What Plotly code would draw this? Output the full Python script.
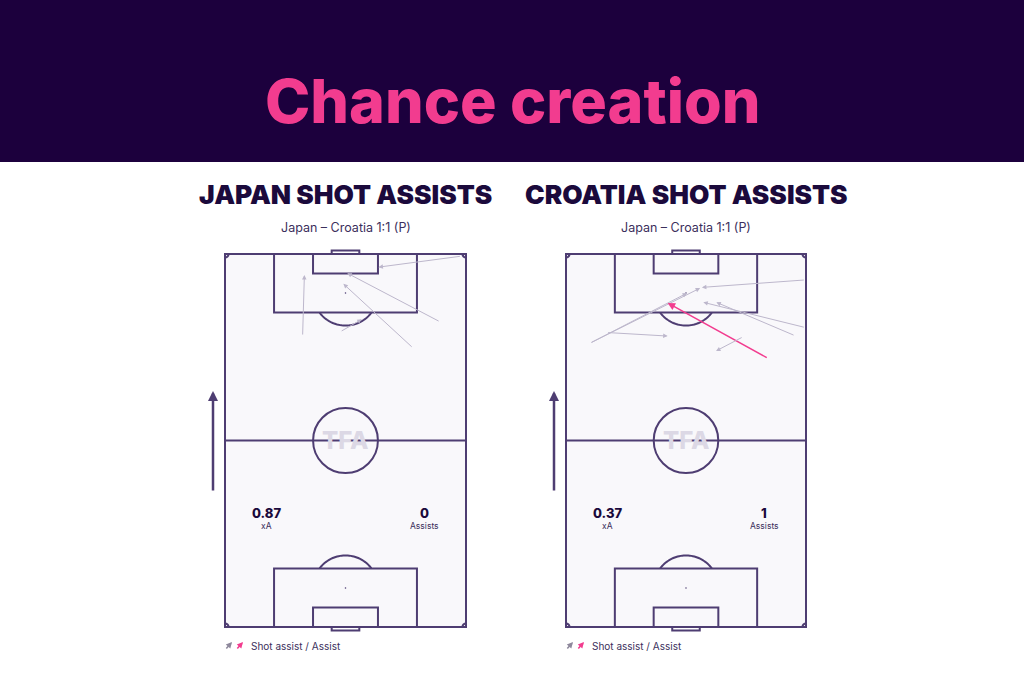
import numpy as np
import plotly.graph_objects as go

# ---------------- data ----------------
teams = ["JAPAN SHOT ASSISTS", "CROATIA SHOT ASSISTS"]
match_label = "Japan – Croatia 1:1 (P)"
xa_values = ["0.87", "0.37"]
assist_values = ["0", "1"]

japan_start_x = [21.9, 66.7, 60.7, 53.1, 32.5]
japan_start_y = [81.9, 104.4, 85.9, 78.5, 83.1]
japan_end_x = [22.4, 43.3, 34.5, 33.4, 38.6]
japan_end_y = [99.1, 101.3, 99.6, 96.6, 86.6]
japan_assist = [0, 0, 0, 0, 0]

croatia_start_x = [67.8, 6.8, 6.8, 57.3, 67.8, 64.9, 11.5, 50.2]
croatia_start_y = [97.7, 79.9, 79.9, 75.6, 84.3, 82.0, 82.9, 81.7]
croatia_end_x = [38.5, 34.3, 38.0, 28.8, 38.9, 42.6, 28.8, 42.5]
croatia_end_y = [95.6, 94.0, 95.4, 91.2, 91.4, 91.4, 81.9, 77.7]
croatia_assist = [0, 0, 0, 1, 0, 0, 0, 0]

# ---------------- style ----------------
W, H = 1024, 683
DARK = "#1b0a3c"
HEADER = "#1c003d"
PINK = "#f23c8f"
LINE = "#4e3d72"
PITCH_BG = "#f9f8fb"
SHOT = "#bdb7cc"
FONT = "Inter"

PL, PW = 68.0, 105.0
XR = [-2, 70]
YR = [-2, 107]


def px(x):
    return x / W


def py(y):
    return 1 - y / H


fig = go.Figure()

frames = [(225, 466, 254, 627), (566, 806, 254, 627)]

for i, (l, r, t, b) in enumerate(frames):
    sx = (r - l) / PL
    sy = (b - t) / PW
    x0 = l + XR[0] * sx
    x1 = r + (XR[1] - PL) * sx
    y_bot = b - YR[0] * sy
    y_top = t - (YR[1] - PW) * sy
    suffix = "" if i == 0 else str(i + 1)
    fig.update_layout(**{
        "xaxis" + suffix: dict(domain=[px(x0), px(x1)], range=XR, visible=False,
                               fixedrange=True, anchor="y" + suffix),
        "yaxis" + suffix: dict(domain=[py(y_bot), py(y_top)], range=YR, visible=False,
                               fixedrange=True, anchor="x" + suffix),
    })

shapes = []
annotations = []

shapes.append(dict(type="rect", xref="paper", yref="paper", x0=0, x1=1, y0=py(162), y1=1,
                   fillcolor=HEADER, line=dict(width=0), layer="below"))
annotations.append(dict(text="Chance creation", xref="paper", yref="paper", x=0.5, y=py(101),
                        showarrow=False, font=dict(family=FONT, size=61, color=PINK, weight=800),
                        xanchor="center", yanchor="middle"))


def arc_path(cx, cy, r, a0, a1, n=40):
    a = np.linspace(np.radians(a0), np.radians(a1), n)
    xs = cx + r * np.cos(a)
    ys = cy + r * np.sin(a)
    return "M " + " L ".join(f"{x:.3f},{y:.3f}" for x, y in zip(xs, ys))


def pitch(xr, yr):
    s = []
    ln = dict(color=LINE, width=2)
    s.append(dict(type="rect", xref=xr, yref=yr, x0=0, x1=PL, y0=0, y1=PW,
                  fillcolor=PITCH_BG, line=ln, layer="below"))
    s.append(dict(type="line", xref=xr, yref=yr, x0=0, x1=PL, y0=PW / 2, y1=PW / 2, line=ln, layer="below"))
    s.append(dict(type="circle", xref=xr, yref=yr, x0=PL / 2 - 9.15, x1=PL / 2 + 9.15,
                  y0=PW / 2 - 9.15, y1=PW / 2 + 9.15, line=ln, layer="below"))
    for top in (True, False):
        sign = -1 if top else 1
        base = PW if top else 0
        s.append(dict(type="rect", xref=xr, yref=yr, x0=PL / 2 - 20.16, x1=PL / 2 + 20.16,
                      y0=base, y1=base + sign * 16.5, line=ln, layer="below"))
        s.append(dict(type="rect", xref=xr, yref=yr, x0=PL / 2 - 9.16, x1=PL / 2 + 9.16,
                      y0=base, y1=base + sign * 5.5, line=ln, layer="below"))
        s.append(dict(type="rect", xref=xr, yref=yr, x0=PL / 2 - 3.9, x1=PL / 2 + 3.9,
                      y0=base, y1=base - sign * 1.0, line=ln, layer="below"))
        spy = base + sign * 11
        s.append(dict(type="circle", xref=xr, yref=yr, x0=PL / 2 - 0.22, x1=PL / 2 + 0.22,
                      y0=spy - 0.22, y1=spy + 0.22, fillcolor=LINE, line=dict(width=0), layer="below"))
        ang = np.degrees(np.arccos(5.5 / 9.15))
        if top:
            p = arc_path(PL / 2, spy, 9.15, 270 - ang, 270 + ang)
        else:
            p = arc_path(PL / 2, spy, 9.15, 90 - ang, 90 + ang)
        s.append(dict(type="path", xref=xr, yref=yr, path=p, line=ln, layer="below"))
    for (cx, cy, a0, a1) in [(0, 0, 0, 90), (PL, 0, 90, 180), (PL, PW, 180, 270), (0, PW, 270, 360)]:
        s.append(dict(type="path", xref=xr, yref=yr, path=arc_path(cx, cy, 1.0, a0, a1, 12),
                      line=ln, layer="below"))
    return s


series = [
    (japan_start_x, japan_start_y, japan_end_x, japan_end_y, japan_assist),
    (croatia_start_x, croatia_start_y, croatia_end_x, croatia_end_y, croatia_assist),
]

for i in range(2):
    xr = "x" if i == 0 else "x2"
    yr = "y" if i == 0 else "y2"
    shapes += pitch(xr, yr)
    l, r, t, b = frames[i]
    cx = (l + r) / 2
    annotations.append(dict(text=teams[i], xref="paper", yref="paper", x=px(cx), y=py(194),
                            showarrow=False, xanchor="center", yanchor="middle",
                            font=dict(family=FONT, size=26.3, color=DARK, weight=900)))
    annotations.append(dict(text=match_label, xref="paper", yref="paper", x=px(cx), y=py(227),
                            showarrow=False, xanchor="center", yanchor="middle",
                            font=dict(family=FONT, size=12.5, color="#3b2f5c")))
    annotations.append(dict(text="TFA", xref=xr, yref=yr, x=PL / 2, y=PW / 2, showarrow=False,
                            xanchor="center", yanchor="middle",
                            font=dict(family=FONT, size=24, color="#dcd8e5", weight=800)))
    annotations.append(dict(text=xa_values[i], xref=xr, yref=yr, x=11.8, y=32.1, showarrow=False,
                            xanchor="center", yanchor="middle",
                            font=dict(family=FONT, size=13, color=DARK, weight=800)))
    annotations.append(dict(text="xA", xref=xr, yref=yr, x=11.8, y=28.4, showarrow=False,
                            xanchor="center", yanchor="middle",
                            font=dict(family=FONT, size=8.5, color="#3b2f5c")))
    annotations.append(dict(text=assist_values[i], xref=xr, yref=yr, x=56.2, y=32.1, showarrow=False,
                            xanchor="center", yanchor="middle",
                            font=dict(family=FONT, size=13, color=DARK, weight=800)))
    annotations.append(dict(text="Assists", xref=xr, yref=yr, x=56.2, y=28.4, showarrow=False,
                            xanchor="center", yanchor="middle",
                            font=dict(family=FONT, size=8.5, color="#3b2f5c")))
    sx_, sy_, ex_, ey_, ast = series[i]
    for a in range(len(sx_)):
        col = PINK if ast[a] else SHOT
        annotations.append(dict(x=ex_[a], y=ey_[a], ax=sx_[a], ay=sy_[a], xref=xr, yref=yr,
                                axref=xr, ayref=yr, text="", showarrow=True, arrowhead=2,
                                arrowsize=1.0 if ast[a] else 0.9, arrowwidth=1.5 if ast[a] else 1,
                                arrowcolor=col, standoff=0, startstandoff=0))
    dx = l - 12
    annotations.append(dict(x=px(dx), y=py(391), xref="paper", yref="paper",
                            ax=0, ay=101, axref="pixel", ayref="pixel", text="",
                            showarrow=True, arrowhead=2, arrowsize=0.8, arrowwidth=2.5,
                            arrowcolor=LINE, standoff=0))
    annotations.append(dict(x=px(l + 7), y=py(642), ax=-7, ay=8, xref="paper", yref="paper",
                            axref="pixel", ayref="pixel", text="", showarrow=True, arrowhead=2,
                            arrowsize=0.8, arrowwidth=1.5, arrowcolor="#8e889c", standoff=0))
    annotations.append(dict(x=px(l + 18), y=py(642), ax=-7, ay=8, xref="paper", yref="paper",
                            axref="pixel", ayref="pixel", text="", showarrow=True, arrowhead=2,
                            arrowsize=0.8, arrowwidth=1.5, arrowcolor=PINK, standoff=0))
    annotations.append(dict(text="Shot assist / Assist", xref="paper", yref="paper", x=px(l + 24), y=py(646),
                            showarrow=False, xanchor="left", yanchor="middle",
                            font=dict(family=FONT, size=10, color="#3b2f5c")))

fig.update_layout(
    width=W, height=H,
    margin=dict(l=0, r=0, t=0, b=0),
    paper_bgcolor="white", plot_bgcolor="rgba(0,0,0,0)",
    shapes=shapes, annotations=annotations, showlegend=False,
)

fig.write_html("out.html", config={"displayModeBar": False},
               post_script="document.body.style.margin='0';document.body.style.overflow='hidden';")
